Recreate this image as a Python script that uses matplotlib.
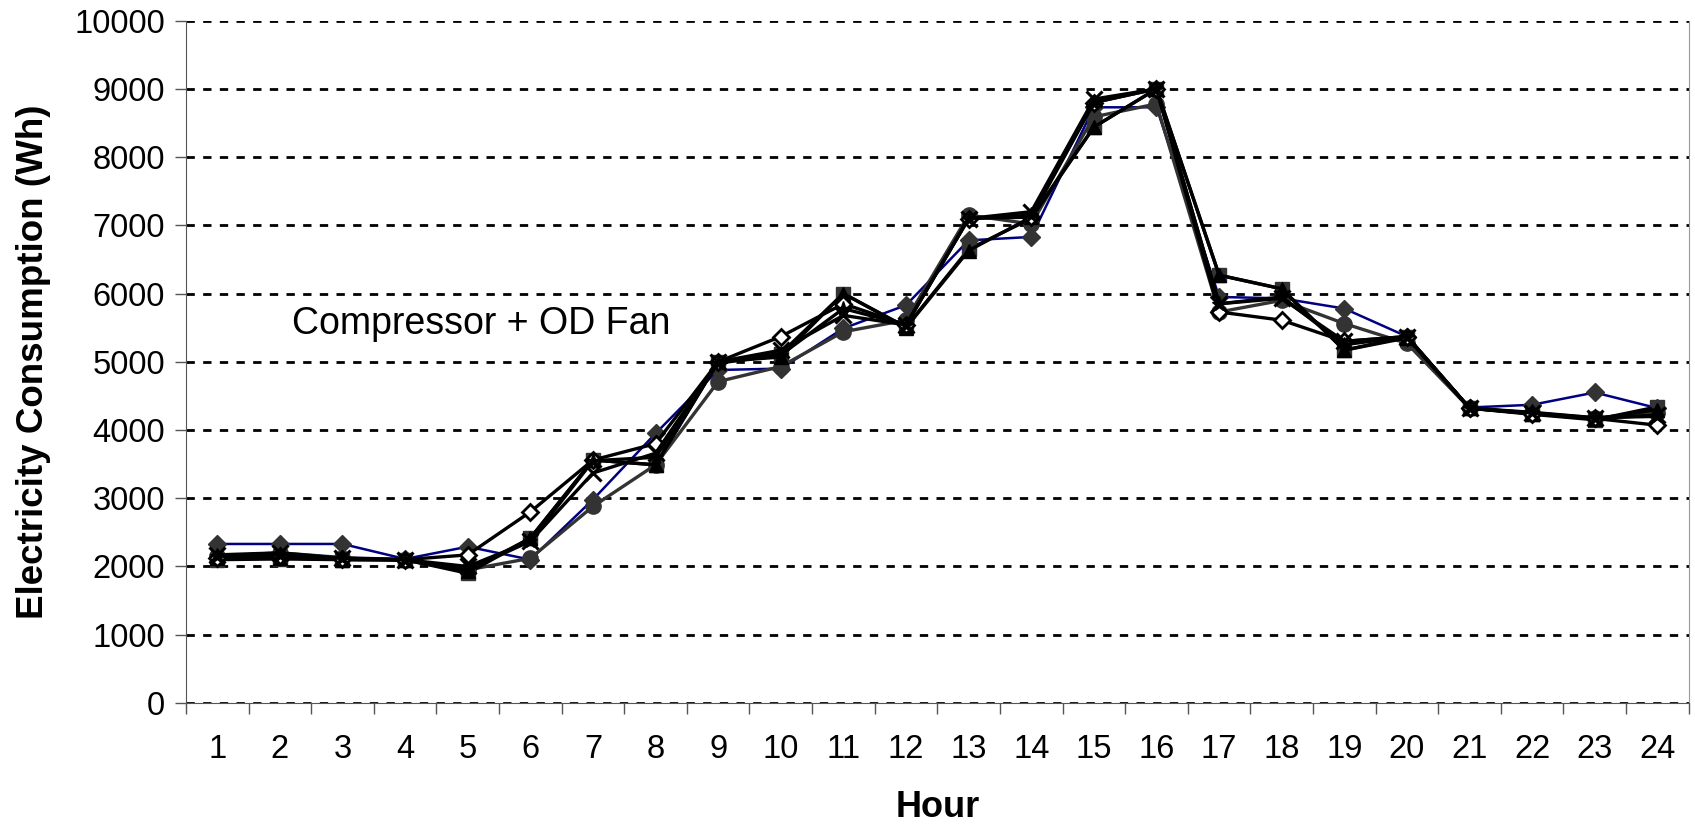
import matplotlib.pyplot as plt
from matplotlib.ticker import FixedLocator

plt.rcParams['font.family'] = ['Liberation Sans', 'DejaVu Sans']

hours = list(range(1, 25))

s1 = [2330, 2330, 2330, 2110, 2290, 2100, 2980, 3950, 4880, 4900, 5490, 5830,
      6780, 6830, 8730, 8730, 5950, 5930, 5780, 5370, 4330, 4370, 4550, 4320]
s2 = [2150, 2200, 2130, 2100, 1950, 2120, 2880, 3490, 4710, 4930, 5440, 5610,
      7150, 7020, 8590, 8780, 5730, 5900, 5560, 5270, 4320, 4250, 4180, 4250]
s3 = [2130, 2150, 2110, 2100, 2170, 2800, 3560, 3800, 5000, 5370, 5850, 5540,
      7100, 7120, 8800, 9000, 5730, 5610, 5300, 5370, 4320, 4240, 4170, 4070]
s4 = [2100, 2110, 2100, 2100, 1900, 2415, 3560, 3490, 5000, 5120, 6000, 5510,
      6650, 7100, 8440, 9000, 6270, 6070, 5170, 5370, 4320, 4230, 4150, 4340]
s5 = [2120, 2130, 2100, 2090, 1930, 2415, 3560, 3490, 5000, 5070, 6000, 5500,
      6630, 7120, 8440, 9000, 6270, 6070, 5170, 5350, 4320, 4240, 4160, 4300]
s6 = [2170, 2200, 2120, 2100, 2000, 2370, 3370, 3660, 5000, 5170, 5680, 5540,
      7100, 7200, 8850, 9000, 5850, 5930, 5300, 5370, 4320, 4250, 4170, 4220]
s7 = [2150, 2170, 2120, 2100, 1950, 2370, 3550, 3600, 4980, 5100, 5780, 5540,
      7100, 7150, 8800, 9000, 5850, 5950, 5250, 5370, 4320, 4260, 4180, 4200]

fig = plt.figure(figsize=(16.95, 8.26), dpi=100)
ax = fig.add_axes([0.1097, 0.149, 0.8866, 0.826])

gray = '#333333'
ax.plot(hours, s1, color='#000080', lw=1.8, marker='D', ms=9, mfc=gray, mec=gray, zorder=3)
ax.plot(hours, s2, color=gray, lw=2.4, marker='o', ms=11, mfc=gray, mec=gray, zorder=3)
ax.plot(hours, s3, color='black', lw=2.4, marker='D', ms=8, mfc='white', mec='black', mew=2, zorder=4)
ax.plot(hours, s4, color='black', lw=2.4, marker='s', ms=10, mfc=gray, mec=gray, zorder=3)
ax.plot(hours, s5, color='black', lw=2.4, marker='^', ms=10, mfc='black', mec='black', zorder=3)
ax.plot(hours, s6, color='black', lw=2.4, marker='x', ms=11, mew=2.2, mec='black', zorder=4)
ax.plot(hours, s7, color='black', lw=2.4, marker='*', ms=11, mfc='black', mec='black', zorder=4)

ax.set_xlim(0.5, 24.5)
ax.set_ylim(0, 10000)
ax.set_yticks(range(0, 10001, 1000))
ax.yaxis.grid(True, linestyle=(0, (3, 3)), color='black', lw=2)
ax.set_axisbelow(True)

ax.xaxis.set_major_locator(FixedLocator([h + 0.5 for h in range(0, 25)]))
ax.xaxis.set_major_formatter(plt.NullFormatter())
ax.set_xticks(hours, [str(h) for h in hours], minor=True)
ax.tick_params(axis='x', which='minor', length=0, labelsize=23.5, pad=22.5)
ax.tick_params(axis='x', which='major', length=8, width=1, color='#555555')
ax.tick_params(axis='y', length=8, width=1, labelsize=23.5, pad=7, color='#555555')

ax.spines['top'].set_visible(False)
ax.spines['right'].set_color('#999999')
ax.spines['left'].set_color('#555555')
ax.spines['bottom'].set_color('#555555')

ax.set_xlabel('Hour', fontsize=26, fontweight='bold', labelpad=18)
ax.set_ylabel('Electricity Consumption (Wh)', fontsize=26.5, fontweight='bold', labelpad=17)

ax.text(2.19, 5560, 'Compressor + OD Fan', fontsize=27, va='center', ha='left')

fig.savefig('out.png', dpi=100)
